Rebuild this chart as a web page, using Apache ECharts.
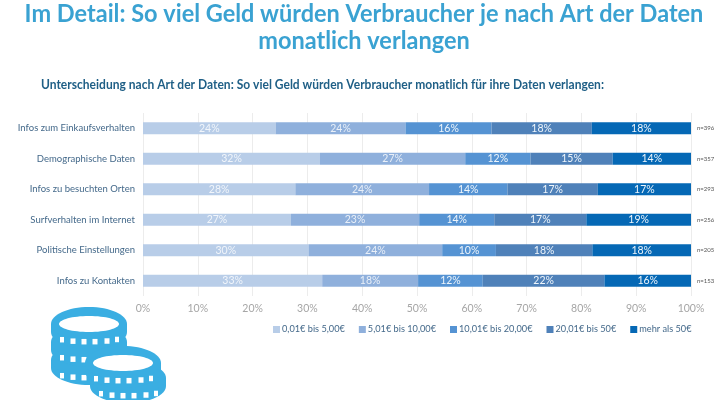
<!DOCTYPE html>
<html lang="de">

<head>
  <meta charset="UTF-8">
  <title>Im Detail</title>
  <script src="https://cdn.jsdelivr.net/npm/echarts@6/dist/echarts.min.js"></script>
  <style>
    html, body { margin: 0; padding: 0; background: #fff; }
    #chart { width: 728px; height: 400px; }
  </style>
</head>

<body>
  <div id="chart"></div>
  <script>
    var mainTitle = 'Im Detail: So viel Geld würden Verbraucher je nach Art der Daten\nmonatlich verlangen'
    var subTitle = 'Unterscheidung nach Art der Daten: So viel Geld würden Verbraucher monatlich für ihre Daten verlangen:'
    var categories = ['Infos zum Einkaufsverhalten', 'Demographische Daten', 'Infos zu besuchten Orten', 'Surfverhalten im Internet', 'Politische Einstellungen', 'Infos zu Kontakten']
    var sampleSizes = ['n=396', 'n=357', 'n=293', 'n=256', 'n=205', 'n=153']
    var priceRanges = ['0,01€ bis 5,00€', '5,01€ bis 10,00€', '10,01€ bis 20,00€', '20,01€ bis 50€', 'mehr als 50€']
    var range1 = [24.2, 32.3, 27.8, 27.0, 30.2, 32.7]
    var range2 = [23.7, 26.5, 24.4, 23.4, 24.4, 17.5]
    var range3 = [15.7, 11.9, 14.3, 13.7, 9.8, 11.8]
    var range4 = [18.3, 15.0, 16.5, 16.8, 17.6, 22.2]
    var range5 = [18.1, 14.3, 17.0, 19.1, 18.0, 15.8]
    var colors = ['#b8cde8', '#8fb0dc', '#5593d3', '#4f81b9', '#0568b5']

    var mCharts = echarts.init(document.getElementById('chart'))

    var seriesData = [range1, range2, range3, range4, range5].map(function (values, i) {
      return {
        name: priceRanges[i],
        type: 'bar',
        stack: 'total',
        barWidth: 12,
        data: values,
        itemStyle: { color: colors[i] },
        label: {
          show: true,
          position: 'inside',
          fontFamily: 'Lato',
          fontSize: 10.5,
          color: i < 2 ? 'rgba(255,255,255,0.8)' : '#eef5fb',
          formatter: function (p) { return Math.round(p.value) + '%' }
        }
      }
    })

    var coinBlue = '#3aaee2'

    // decoration only: one coin with a hole (optional) and a row of white notches
    function coin(cx, cy, hole) {
      var parts = [
        { type: 'ellipse', shape: { cx: cx, cy: cy + 8, rx: 38, ry: 17 }, style: { fill: coinBlue } },
        { type: 'rect', shape: { x: cx - 38, y: cy, width: 76, height: 8 }, style: { fill: coinBlue } },
        { type: 'ellipse', shape: { cx: cx, cy: cy, rx: 38, ry: 17 }, style: { fill: coinBlue } }
      ]
      if (hole) {
        parts.push({ type: 'ellipse', shape: { cx: cx, cy: cy, rx: 30, ry: 8 }, style: { fill: '#fff' } })
      }
      var dxs = [-27, -16, -5, 6, 18, 28]
      dxs.forEach(function (dx) {
        var ny = cy + 14 + Math.sqrt(1 - (dx / 31) * (dx / 31)) * 4
        var w = Math.abs(dx) > 25 ? 4 : 5
        parts.push({ type: 'rect', shape: { x: cx + dx - w / 2, y: ny - 3, width: w, height: 5.5 }, style: { fill: '#fff' } })
      })
      return parts
    }

    var option = {
      animation: false,
      backgroundColor: '#fff',
      textStyle: { fontFamily: 'Lato' },
      legend: {
        data: priceRanges,
        left: 273,
        top: 325,
        padding: 0,
        width: 450,
        itemWidth: 7,
        itemHeight: 7,
        itemGap: 14,
        icon: 'rect',
        textStyle: { fontFamily: 'Lato', fontSize: 9.2, color: '#44698a', padding: [0, 0, 0, -3] }
      },
      grid: { left: 143, right: 37, top: 113, bottom: 104 },
      xAxis: {
        type: 'value',
        min: 0,
        max: 100,
        interval: 10,
        axisLabel: { formatter: '{value}%', color: '#a6a6a6', fontFamily: 'Lato', fontSize: 10.5, margin: 7 },
        axisLine: { show: false },
        axisTick: { show: false },
        splitLine: { lineStyle: { color: '#ececec', width: 1 } }
      },
      yAxis: [
        {
          type: 'category',
          inverse: true,
          data: categories,
          axisLine: { show: false },
          axisTick: { show: false },
          axisLabel: { color: '#44698a', fontFamily: 'Lato', fontSize: 9.5, margin: 8 }
        },
        {
          type: 'category',
          inverse: true,
          position: 'right',
          data: sampleSizes,
          axisLine: { show: false },
          axisTick: { show: false },
          axisLabel: { color: '#555', fontFamily: 'Lato', fontSize: 6, margin: 6 }
        }
      ],
      series: seriesData,
      graphic: [
        {
          type: 'text',
          x: 364,
          y: 0,
          scaleX: 0.94,
          style: {
            text: mainTitle,
            textAlign: 'center',
            fontFamily: 'Lato',
            fontSize: 25,
            fontWeight: 'bold',
            lineHeight: 27,
            fill: '#3aa2d2'
          }
        },
        {
          type: 'text',
          x: 41,
          y: 78,
          scaleX: 0.925,
          style: {
            text: subTitle,
            fontFamily: 'Lato',
            fontSize: 13,
            fontWeight: 'bold',
            fill: '#1f5f86'
          }
        }
      ].concat(coin(89, 360, false), coin(89, 342, false), coin(89, 324, true), coin(128, 378, false), coin(123, 363, true))
    }
    mCharts.setOption(option)
  </script>
</body>

</html>
